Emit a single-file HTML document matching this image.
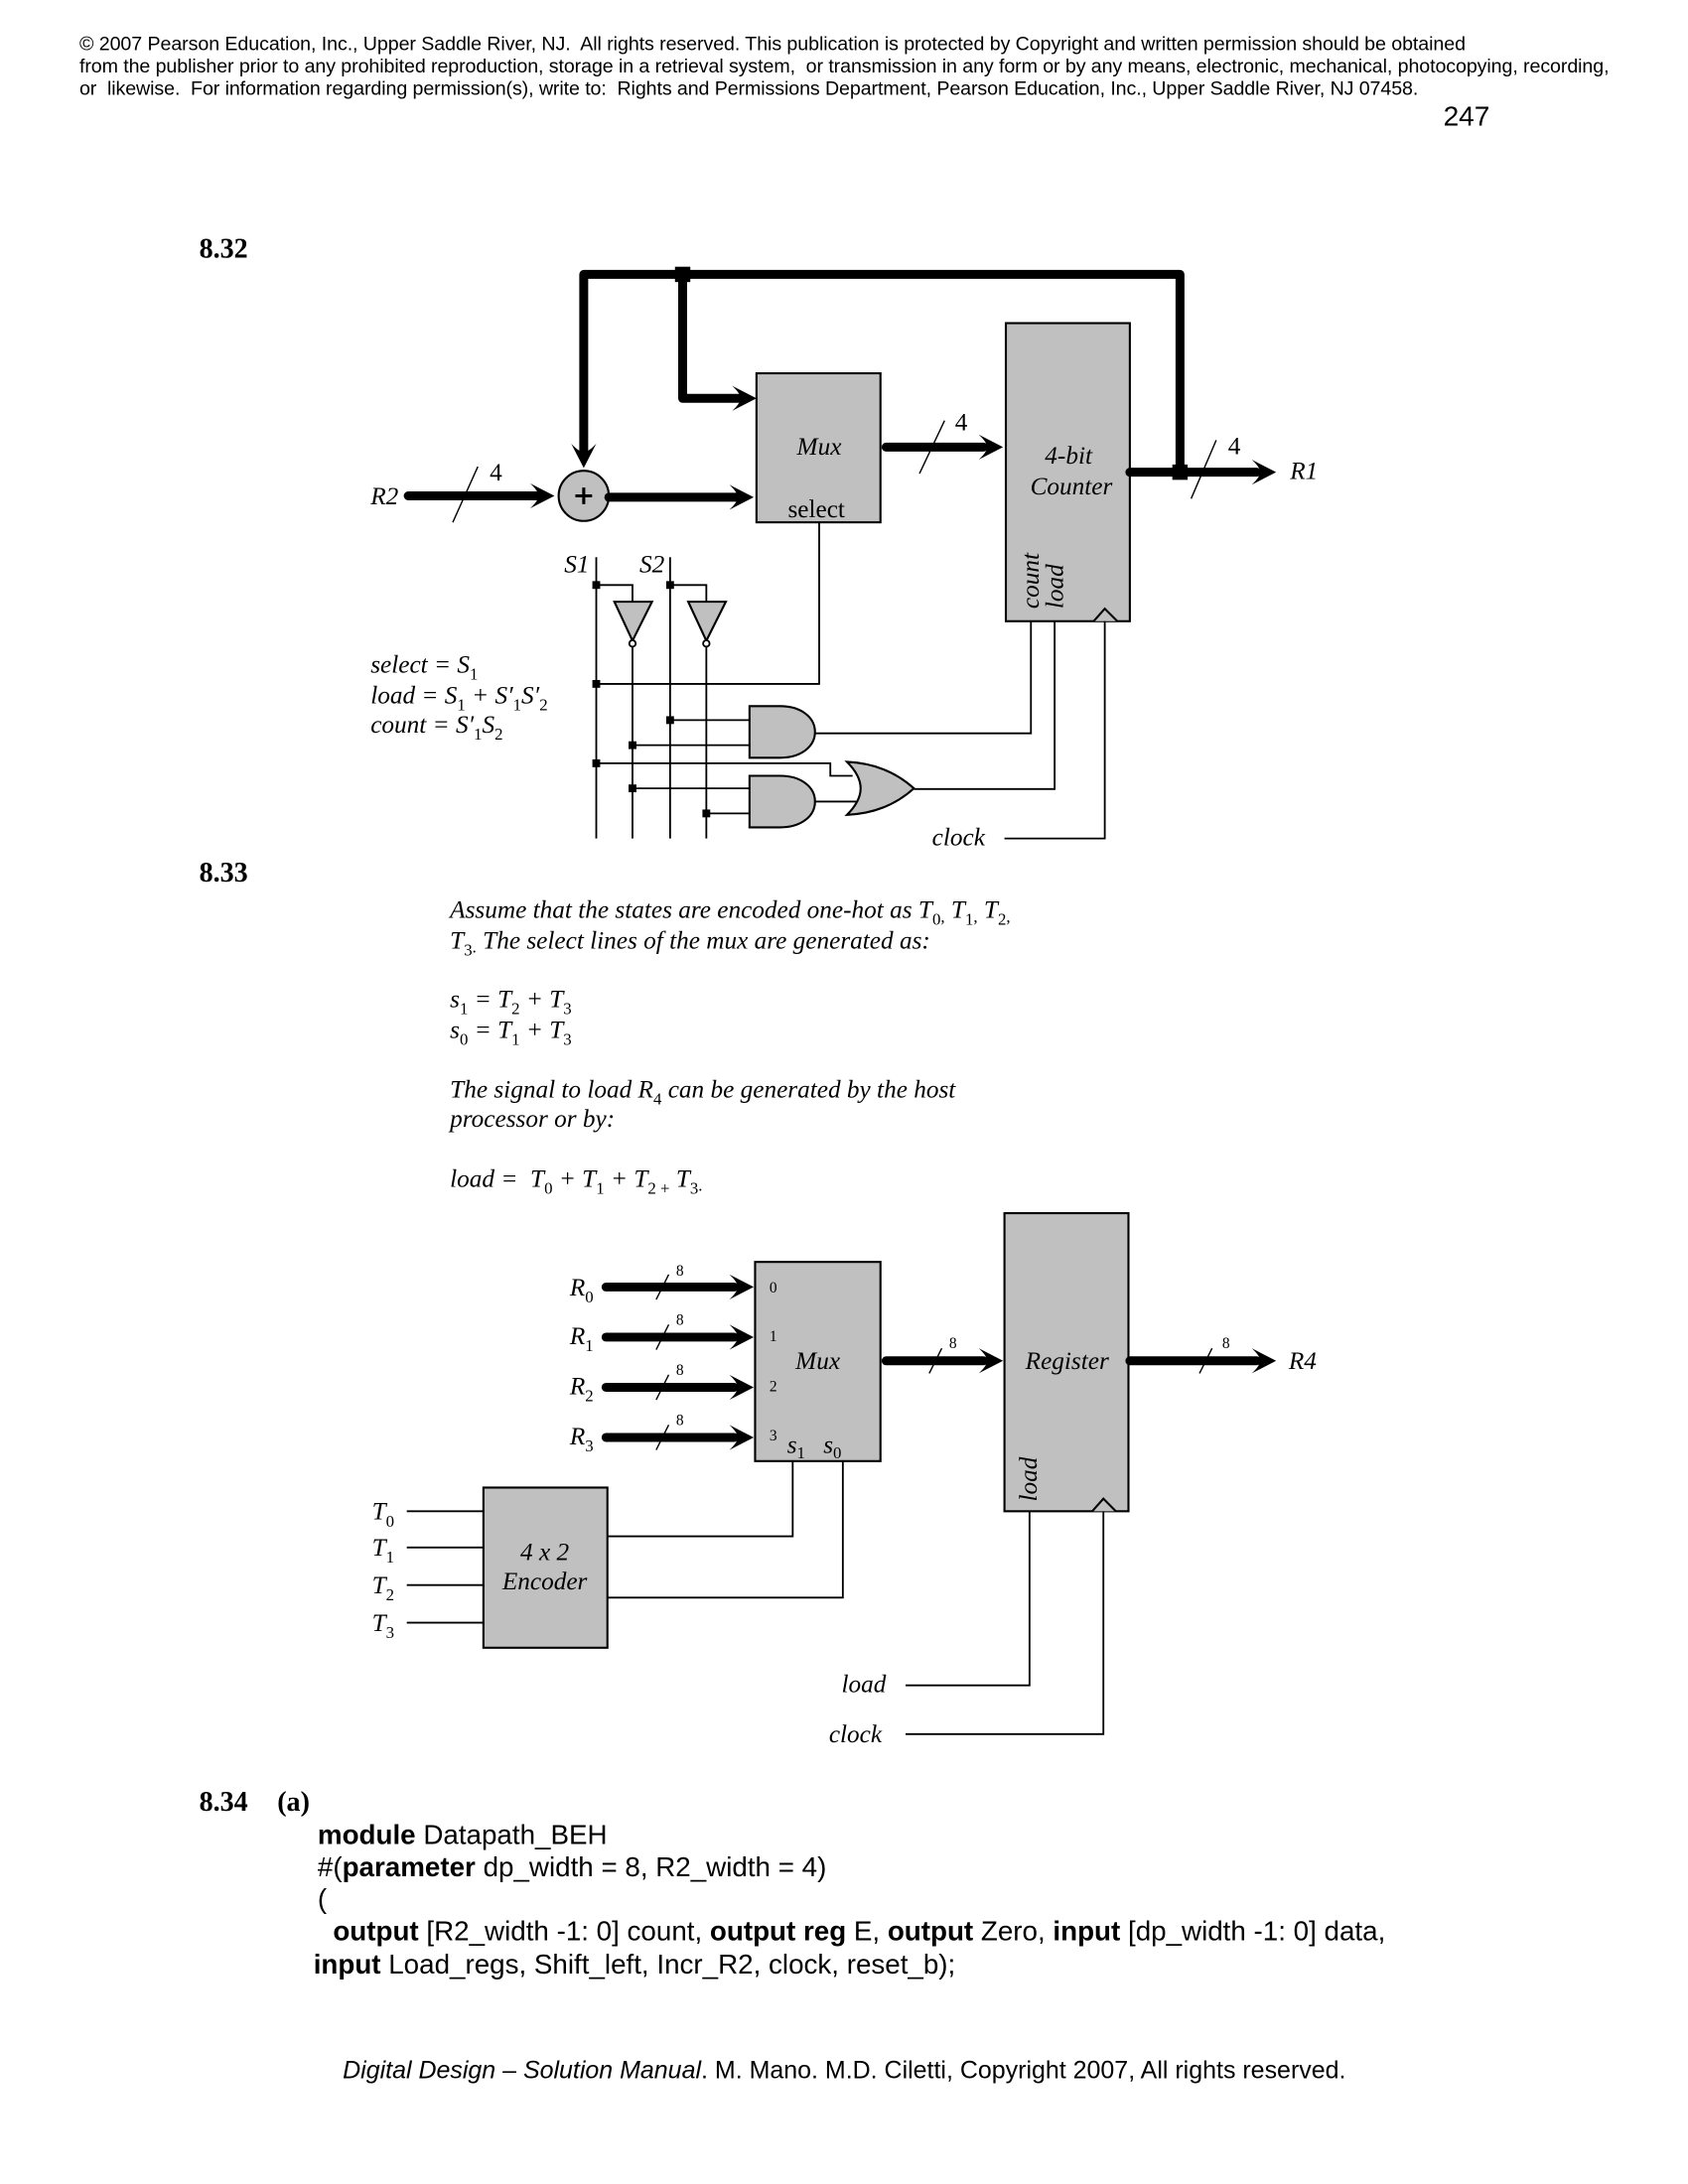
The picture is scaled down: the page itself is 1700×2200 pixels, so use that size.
<!DOCTYPE html>
<html><head><meta charset="utf-8"><style>
html,body{margin:0;padding:0;background:#fff}
svg{display:block}
text{fill:#000;white-space:pre}
.h{font:14px "Liberation Sans",sans-serif}
.c{font:19.800px "Liberation Sans",sans-serif}
.b{font:bold 20px "Liberation Serif",serif}
.i{font:italic 18px "Liberation Serif",serif}
.r{font:18px "Liberation Serif",serif}
.s{font:11px "Liberation Serif",serif}
.m{text-anchor:middle}
.sub{font-size:12px;font-style:normal}
.t{fill:none;stroke:#000;stroke-width:6.400;stroke-linejoin:round;stroke-linecap:round}
.l{fill:none;stroke:#000;stroke-width:1.300}
.g{fill:#c0c0c0;stroke:#000;stroke-width:1.500}
</style></head><body>
<svg width="1700" height="2200" viewBox="0 0 1211.640 1568" xmlns="http://www.w3.org/2000/svg">
<defs><path id="ar" d="M0 0l-17.500-9q6 5.500 6 9t-6 9z" fill="#000"/></defs>
<rect width="1212" height="1568" fill="#fff"/>

<text class="h" x="57" y="36" textLength="995">© 2007 Pearson Education, Inc., Upper Saddle River, NJ.  All rights reserved. This publication is protected by Copyright and written permission should be obtained</text>
<text class="h" x="57" y="52" textLength="1098">from the publisher prior to any prohibited reproduction, storage in a retrieval system,  or transmission in any form or by any means, electronic, mechanical, photocopying, recording,</text>
<text class="h" x="57" y="68" textLength="961">or  likewise.  For information regarding permission(s), write to:  Rights and Permissions Department, Pearson Education, Inc., Upper Saddle River, NJ 07458.</text>
<text x="1036" y="90" style="font:20px 'Liberation Sans',sans-serif">247</text>

<text class="b" x="143" y="185">8.32</text>

<!-- 8.32 boxes -->
<rect class="g" x="543" y="268" width="89" height="107"/>
<rect class="g" x="722" y="232" width="89" height="214"/>
<circle class="g" cx="419" cy="356" r="18"/>
<path class="g" d="M785 446L793 437L802 446"/>

<!-- 8.32 thick -->
<path class="t" d="M419 325V197H847V339"/>
<path class="t" d="M490 197V286H530"/>
<path class="t" d="M293 356H385"/>
<path class="t" d="M437 357H530"/>
<path class="t" d="M636 321H706"/>
<path class="t" d="M811 339H902"/>
<use href="#ar" x="398" y="356"/>
<use href="#ar" x="543" y="286"/>
<use href="#ar" x="541" y="357"/>
<use href="#ar" x="720" y="321"/>
<use href="#ar" x="916" y="339"/>
<use href="#ar" transform="translate(419 336) rotate(90)"/>
<rect x="484.500" y="191.500" width="11" height="11"/>
<rect x="841.500" y="333.500" width="11" height="11"/>
<path class="l" d="M343 335L325 375M678 302L660 340M873 316L855 358" style="stroke-width:1"/>
<path d="M413 356h12M419 350v12" stroke="#000" stroke-width="2.200" fill="none"/>

<text class="r" x="356" y="345" text-anchor="middle">4</text>
<text class="r" x="690" y="309" text-anchor="middle">4</text>
<text class="r" x="886" y="326" text-anchor="middle">4</text>
<text class="i" x="266" y="362">R2</text>
<text class="i" x="926" y="344">R1</text>
<text class="i m" x="588" y="326.500">Mux</text>
<text class="r m" x="586" y="371.500">select</text>
<text class="i m" x="767" y="333">4-bit</text>
<text class="i m" x="769" y="355">Counter</text>
<text class="i" transform="translate(745.500 437) rotate(-90)">count</text>
<text class="i" transform="translate(763 437) rotate(-90)">load</text>

<!-- 8.32 logic -->
<path class="l" d="M428 400V602M454 462V602M481 400V602M507 462V602"/>
<path class="l" d="M428 420H454V432M481 420H507V432"/>
<path class="g" d="M441 432H468L454 460Z"/>
<path class="g" d="M494 432H521L507 460Z"/>
<circle cx="454" cy="462" r="2.300" fill="#fff" stroke="#000" stroke-width="1.300"/>
<circle cx="507" cy="462" r="2.300" fill="#fff" stroke="#000" stroke-width="1.300"/>
<path class="l" d="M428 491H588V375"/>
<path class="l" d="M481 517H538M454 535H538M585 526.500H740V446"/>
<path class="l" d="M428 548H596V557H612M454 566H538M507 584H538M585 575.500H616M656 566.500H757V446"/>
<path class="g" d="M538 507H560C575 507 585 515 585 525.500C585 536 575 544 560 544H538Z"/>
<path class="g" d="M538 557H560C575 557 585 565 585 575.500C585 586 575 594 560 594H538Z"/>
<path class="g" d="M608 547C630 548 645 556 656 566C645 576 630 584 608 585C621 572 621 560 608 547Z"/>
<path class="l" d="M721 602H793V446"/>
<g fill="#000">
<rect x="425.200" y="417.200" width="5.600" height="5.600"/><rect x="478.200" y="417.200" width="5.600" height="5.600"/>
<rect x="425.200" y="488.200" width="5.600" height="5.600"/><rect x="478.200" y="514.200" width="5.600" height="5.600"/>
<rect x="451.200" y="532.200" width="5.600" height="5.600"/><rect x="425.200" y="545.200" width="5.600" height="5.600"/>
<rect x="451.200" y="563.200" width="5.600" height="5.600"/><rect x="504.200" y="581.200" width="5.600" height="5.600"/>
</g>
<text class="i" x="405" y="411">S1</text>
<text class="i" x="459" y="411">S2</text>
<text class="i" x="669" y="607">clock</text>
<text class="i" x="266" y="483">select = S<tspan class="sub" dy="5">1</tspan></text>
<text class="i" x="266" y="505">load = S<tspan class="sub" dy="5">1</tspan><tspan dy="-5"> + S′</tspan><tspan class="sub" dy="5">1</tspan><tspan dy="-5">S′</tspan><tspan class="sub" dy="5">2</tspan></text>
<text class="i" x="266" y="526">count = S′<tspan class="sub" dy="5">1</tspan><tspan dy="-5">S</tspan><tspan class="sub" dy="5">2</tspan></text>

<!-- 8.33 text -->
<text class="b" x="143" y="633">8.33</text>
<text class="i" x="323" y="659">Assume that the states are encoded one-hot as T<tspan class="sub" dy="5">0</tspan><tspan class="sub" dy="-2">,</tspan><tspan dy="-3"> T</tspan><tspan class="sub" dy="5">1</tspan><tspan class="sub" dy="-2">,</tspan><tspan dy="-3"> T</tspan><tspan class="sub" dy="5">2</tspan><tspan class="sub" dy="-2">,</tspan></text>
<text class="i" x="323" y="681">T<tspan class="sub" dy="5">3</tspan><tspan class="sub" dy="-2">.</tspan><tspan dy="-3"> The select lines of the mux are generated as:</tspan></text>
<text class="i" x="323" y="723">s<tspan class="sub" dy="5">1</tspan><tspan dy="-5"> = T</tspan><tspan class="sub" dy="5">2</tspan><tspan dy="-5"> + T</tspan><tspan class="sub" dy="5">3</tspan></text>
<text class="i" x="323" y="745">s<tspan class="sub" dy="5">0</tspan><tspan dy="-5"> = T</tspan><tspan class="sub" dy="5">1</tspan><tspan dy="-5"> + T</tspan><tspan class="sub" dy="5">3</tspan></text>
<text class="i" x="323" y="788">The signal to load R<tspan class="sub" dy="5">4</tspan><tspan dy="-5"> can be generated by the host</tspan></text>
<text class="i" x="323" y="809">processor or by:</text>
<text class="i" x="323" y="852">load =  T<tspan class="sub" dy="5">0</tspan><tspan dy="-5"> + T</tspan><tspan class="sub" dy="5">1</tspan><tspan dy="-5"> + T</tspan><tspan class="sub" dy="5">2 +</tspan><tspan dy="-5"> T</tspan><tspan class="sub" dy="5">3</tspan><tspan class="sub" dy="-2">.</tspan></text>

<!-- 8.33 diagram -->
<rect class="g" x="542" y="906" width="90" height="143"/>
<rect class="g" x="721" y="871" width="89" height="214"/>
<rect class="g" x="347" y="1068" width="89" height="115"/>
<path class="g" d="M784 1085L792 1076L801 1085"/>
<path class="t" d="M435 924H527M435 960H527M435 996H527M435 1032H527M636 977H706M811 977H902"/>
<use href="#ar" x="541" y="924"/><use href="#ar" x="541" y="960"/><use href="#ar" x="541" y="996"/><use href="#ar" x="541" y="1032"/>
<use href="#ar" x="720" y="977"/><use href="#ar" x="916" y="977"/>
<path class="l" d="M480 915L471 933M480 951L471 969M480 987L471 1005M480 1023L471 1041M676 968L667 986M870 968L861 986" style="stroke-width:1"/>
<text class="s m" x="488" y="916">8</text><text class="s m" x="488" y="951">8</text><text class="s m" x="488" y="987">8</text><text class="s m" x="488" y="1023">8</text>
<text class="s m" x="684" y="968">8</text><text class="s m" x="880" y="968">8</text>
<text class="s m" x="555" y="928">0</text><text class="s m" x="555" y="963">1</text><text class="s m" x="555" y="999">2</text><text class="s m" x="555" y="1034">3</text>
<text class="i" x="409" y="930">R<tspan class="sub" dy="5">0</tspan></text>
<text class="i" x="409" y="965">R<tspan class="sub" dy="5">1</tspan></text>
<text class="i" x="409" y="1001">R<tspan class="sub" dy="5">2</tspan></text>
<text class="i" x="409" y="1037">R<tspan class="sub" dy="5">3</tspan></text>
<text class="i m" x="587" y="983">Mux</text>
<text class="i m" x="766" y="983">Register</text>
<text class="i" x="925" y="983">R4</text>
<text class="i" x="565" y="1043">s<tspan class="sub" dy="4">1</tspan></text>
<text class="i" x="591" y="1043">s<tspan class="sub" dy="4">0</tspan></text>
<text class="i" transform="translate(744 1078) rotate(-90)">load</text>
<path class="l" d="M292 1085H347M292 1111H347M292 1138H347M292 1165H347"/>
<text class="i" x="267" y="1091">T<tspan class="sub" dy="5">0</tspan></text>
<text class="i" x="267" y="1117">T<tspan class="sub" dy="5">1</tspan></text>
<text class="i" x="267" y="1144">T<tspan class="sub" dy="5">2</tspan></text>
<text class="i" x="267" y="1171">T<tspan class="sub" dy="5">3</tspan></text>
<text class="i m" x="391" y="1120">4 x 2</text>
<text class="i m" x="391" y="1141">Encoder</text>
<path class="l" d="M436 1103H569V1049M436 1147H605V1049M650 1210H739V1085M650 1245H792V1085"/>
<text class="i" x="604" y="1215">load</text>
<text class="i" x="595" y="1251">clock</text>

<!-- 8.34 -->
<text class="b" x="143" y="1300">8.34</text>
<text class="b" x="199" y="1300">(a)</text>
<text class="c" x="228" y="1324"><tspan font-weight="bold">module</tspan> Datapath_BEH</text>
<text class="c" x="228" y="1347">#(<tspan font-weight="bold">parameter</tspan> dp_width = 8, R2_width = 4)</text>
<text class="c" x="228" y="1370">(</text>
<text class="c" x="239" y="1393"><tspan font-weight="bold">output</tspan> [R2_width -1: 0] count, <tspan font-weight="bold">output reg</tspan> E, <tspan font-weight="bold">output</tspan> Zero, <tspan font-weight="bold">input</tspan> [dp_width -1: 0] data,</text>
<text class="c" x="225" y="1417"><tspan font-weight="bold">input</tspan> Load_regs, Shift_left, Incr_R2, clock, reset_b);</text>
<text x="246" y="1492" style="font:17.800px 'Liberation Sans',sans-serif"><tspan font-style="italic">Digital Design – Solution Manual</tspan>. M. Mano. M.D. Ciletti, Copyright 2007, All rights reserved.</text>
</svg>
</body></html>
